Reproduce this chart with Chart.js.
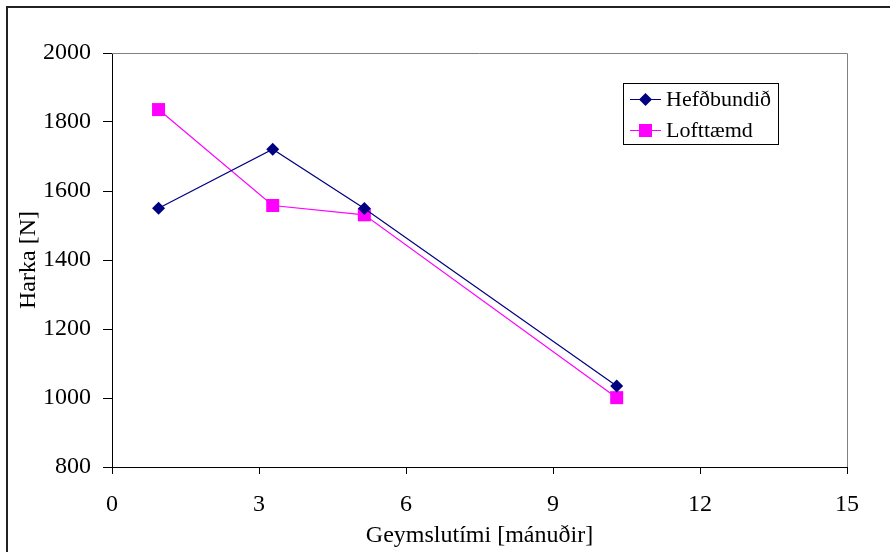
<!DOCTYPE html>
<html>
<head>
<meta charset="utf-8">
<script src="https://cdn.jsdelivr.net/npm/chart.js@4/dist/chart.umd.min.js"></script>
<style>
  html, body { margin: 0; padding: 0; background: #fff; overflow: hidden; }
  #wrap { position: relative; width: 890px; height: 552px; }
  #frame { position: absolute; left: 6px; top: 6px; width: 900px; height: 600px; border: 2px solid #222; box-sizing: border-box; pointer-events: none; }
  canvas { position: absolute; left: 0; top: 0; }
</style>
</head>
<body>
<div id="wrap">
  <canvas id="c" width="890" height="552"></canvas>
  <div id="frame"></div>
</div>
<script>
const months = [0.95, 3.28, 5.15, 10.3];
const hefdbundid = [1550, 1721, 1549, 1035];
const lofttaemd = [1836, 1558, 1531, 1001];
const seriesNames = ['Hefðbundið', 'Lofttæmd'];
const xTitle = 'Geymslutími [mánuðir]';
const yTitle = 'Harka [N]';

const FONT = 'Liberation Serif, Times New Roman, serif';

const plotBorder = {
  id: 'plotBorder',
  beforeDatasetsDraw(chart) {
    const {ctx, chartArea: a} = chart;
    ctx.save();
    ctx.strokeStyle = '#808080';
    ctx.lineWidth = 1;
    ctx.beginPath();
    ctx.moveTo(a.left, a.top + 0.5);
    ctx.lineTo(a.right + 0.5, a.top + 0.5);
    ctx.lineTo(a.right + 0.5, a.bottom);
    ctx.stroke();
    ctx.restore();
  }
};

const boxLegend = {
  id: 'boxLegend',
  afterDraw(chart) {
    const {ctx} = chart;
    const x0 = 623.5, y0 = 83.5, w = 155, h = 61;
    ctx.save();
    ctx.fillStyle = '#fff';
    ctx.fillRect(x0, y0, w, h);
    ctx.strokeStyle = '#000';
    ctx.lineWidth = 1;
    ctx.strokeRect(x0, y0, w, h);
    chart.data.datasets.forEach((ds, i) => {
      const y = 99 + i * 31;
      ctx.strokeStyle = ds.borderColor;
      ctx.lineWidth = 1;
      ctx.beginPath();
      ctx.moveTo(630, y + 0.5);
      ctx.lineTo(661, y + 0.5);
      ctx.stroke();
      ctx.fillStyle = ds.pointBackgroundColor;
      ctx.beginPath();
      if (ds.pointStyle === 'rectRot') {
        const r = ds.pointRadius;
        ctx.moveTo(645.5, y + 0.5 - r);
        ctx.lineTo(645.5 + r, y + 0.5);
        ctx.lineTo(645.5, y + 0.5 + r);
        ctx.lineTo(645.5 - r, y + 0.5);
        ctx.closePath();
      } else {
        const s = ds.pointRadius * Math.SQRT1_2;
        ctx.rect(645.5 - s, y + 0.5 - s, 2 * s, 2 * s);
      }
      ctx.fill();
      ctx.fillStyle = '#000';
      ctx.font = '22px ' + FONT;
      ctx.textBaseline = 'middle';
      ctx.textAlign = 'left';
      ctx.fillText(ds.label, 666, y + 1);
    });
    ctx.restore();
  }
};

new Chart(document.getElementById('c'), {
  type: 'line',
  data: {
    datasets: [
      {
        label: seriesNames[0],
        data: months.map((m, i) => ({x: m, y: hefdbundid[i]})),
        borderColor: '#000080',
        backgroundColor: '#000080',
        pointBackgroundColor: '#000080',
        pointBorderColor: '#000080',
        pointStyle: 'rectRot',
        pointRadius: 6.5,
        pointBorderWidth: 0,
        borderWidth: 1.2,
        tension: 0,
        fill: false
      },
      {
        label: seriesNames[1],
        data: months.map((m, i) => ({x: m, y: lofttaemd[i]})),
        borderColor: '#FF00FF',
        backgroundColor: '#FF00FF',
        pointBackgroundColor: '#FF00FF',
        pointBorderColor: '#FF00FF',
        pointStyle: 'rect',
        pointRadius: 9.2,
        pointBorderWidth: 0,
        borderWidth: 1.2,
        tension: 0,
        fill: false
      }
    ]
  },
  options: {
    responsive: false,
    animation: false,
    devicePixelRatio: 1,
    layout: { padding: { left: 0, top: 53, right: 43, bottom: 0 } },
    plugins: { legend: { display: false }, tooltip: { enabled: false } },
    scales: {
      x: {
        type: 'linear',
        min: 0, max: 15,
        afterFit(s) { s.height = 85; },
        ticks: { stepSize: 3, color: '#000', font: { family: FONT, size: 24 }, padding: 16, maxRotation: 0, callback: v => String(v) },
        grid: { drawOnChartArea: false, drawTicks: true, tickLength: 7, color: '#000' },
        border: { display: true, color: '#000', width: 1 },
        title: { display: true, text: xTitle, color: '#000', font: { family: FONT, size: 24 }, padding: { top: 0, bottom: 2 } }
      },
      y: {
        min: 800, max: 2000,
        afterFit(s) { s.width = 112; },
        ticks: { stepSize: 200, color: '#000', font: { family: FONT, size: 24 }, padding: 12, callback: v => String(v) },
        grid: { drawOnChartArea: false, drawTicks: true, tickLength: 9, color: '#000' },
        border: { display: true, color: '#000', width: 1 },
        title: { display: true, text: yTitle, color: '#000', font: { family: FONT, size: 24 }, padding: { top: 14, bottom: 0 } }
      }
    }
  },
  plugins: [plotBorder, boxLegend]
});
</script>
</body>
</html>
